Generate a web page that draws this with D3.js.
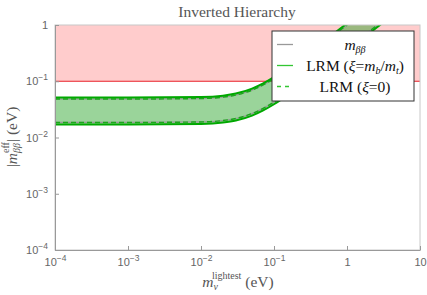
<!DOCTYPE html>
<html>
<head>
<meta charset="utf-8">
<script src="https://cdn.jsdelivr.net/npm/d3@7"></script>
<style>
  body { margin: 0; background: #fff; }
  svg { display: block; }
  .tick text { font-family: "Liberation Sans", Arial, sans-serif; font-size: 11px; fill: #666; }
  .serif { font-family: "Liberation Serif", "Times New Roman", serif; }
</style>
</head>
<body>
<svg id="chart" width="427" height="295"></svg>
<script>
/* lightest neutrino mass (eV) */
let mLightest = [1e-4, 1e-3, 1e-2, 2e-2, 3e-2, 5e-2, 7e-2, 0.1, 0.2, 0.5, 1, 2, 5, 10];
/* m_bb band, standard (xi = 0) */
let mbbUpper = [0.0483, 0.0483, 0.0493, 0.0522, 0.0568, 0.0695, 0.085, 0.111, 0.206, 0.502, 1.00, 2.00, 5.0, 10.0];
let mbbLower = [0.0185, 0.0185, 0.0189, 0.0200, 0.0218, 0.0266, 0.0326, 0.0426, 0.079, 0.193, 0.384, 0.768, 1.92, 3.84];
/* LRM band with xi = m_b/m_t */
let lrmUpper = [0.0514, 0.0515, 0.0525, 0.0555, 0.0604, 0.074, 0.0905, 0.118, 0.219, 0.535, 1.066, 2.13, 5.3, 10.6];
let lrmLower = [0.0170, 0.0170, 0.0174, 0.0184, 0.0200, 0.0245, 0.0300, 0.039, 0.0727, 0.177, 0.353, 0.706, 1.77, 3.53];
/* excluded region */
let excluded = [0.1, 1];

let xTicks = [1e-4, 1e-3, 1e-2, 1e-1, 1, 10];
let yTicks = [1e-4, 1e-3, 1e-2, 1e-1, 1];

let legendItems = [
    {label: 'mbb', color: '#999', dash: null},
    {label: 'lrm', color: '#33c633', dash: null},
    {label: 'lrm0', color: '#33c633', dash: '4,4'}
];

let svg = d3.select('#chart');
let pLeft = 55, pRight = 420, pTop = 25, pBottom = 250;

let x = d3.scaleLog().domain([1e-4, 10]).range([pLeft, pRight]);
let y = d3.scaleLog().domain([1e-4, 1]).range([pBottom, pTop]);

svg.append('defs').append('clipPath').attr('id', 'clip')
    .append('rect').attr('x', pLeft).attr('y', pTop)
    .attr('width', pRight - pLeft).attr('height', pBottom - pTop);

let plot = svg.append('g').attr('clip-path', 'url(#clip)');

/* Excluded region */
plot.append('rect')
    .attr('x', pLeft).attr('width', pRight - pLeft)
    .attr('y', y(excluded[1])).attr('height', y(excluded[0]) - y(excluded[1]))
    .attr('fill', '#ffcccc');
plot.append('line')
    .attr('x1', pLeft).attr('x2', pRight)
    .attr('y1', y(excluded[0])).attr('y2', y(excluded[0]))
    .attr('stroke', '#e8202a').attr('stroke-width', 1.2);

let idx = d3.range(mLightest.length);

/* Band fill */
plot.append('path')
    .datum(idx)
    .attr('d', d3.area()
        .x(i => x(mLightest[i]))
        .y0(i => y(lrmLower[i]))
        .y1(i => y(lrmUpper[i]))
        .curve(d3.curveMonotoneX))
    .attr('fill', 'rgba(30,160,30,0.45)');

let line = arr => d3.line()
    .x(i => x(mLightest[i]))
    .y(i => y(arr[i]))
    .curve(d3.curveMonotoneX);

/* standard m_bb in gray, then dashed LRM(xi=0) over it */
[mbbUpper, mbbLower].forEach(arr => {
    plot.append('path').datum(idx).attr('d', line(arr))
        .attr('fill', 'none').attr('stroke', '#999').attr('stroke-width', 1.2);
    plot.append('path').datum(idx).attr('d', line(arr))
        .attr('fill', 'none').attr('stroke', '#1aa81a').attr('stroke-width', 1.4)
        .attr('stroke-dasharray', '5,3');
});
[lrmUpper, lrmLower].forEach(arr => {
    plot.append('path').datum(idx).attr('d', line(arr))
        .attr('fill', 'none').attr('stroke', '#00a800').attr('stroke-width', 2);
});

/* Frame */
svg.append('rect')
    .attr('x', pLeft).attr('y', pTop)
    .attr('width', pRight - pLeft).attr('height', pBottom - pTop)
    .attr('fill', 'none').attr('stroke', '#c8c8c8');

function supLabel(sel, v) {
    let e = Math.round(Math.log10(v));
    sel.text(null);
    if (e === 0) { sel.text('1'); return; }
    if (e === 1) { sel.text('10'); return; }
    sel.append('tspan').text('10');
    sel.append('tspan').attr('dy', -5).attr('font-size', 8.5).text('\u2212' + (-e));
}

/* Axes */
let xAxis = svg.append('g').attr('transform', `translate(0,${pBottom})`)
    .call(d3.axisBottom(x).tickValues(xTicks).tickSizeInner(-4).tickSizeOuter(0).tickPadding(8));
xAxis.select('.domain').attr('stroke', '#999');
xAxis.selectAll('.tick line').attr('stroke', '#999');
xAxis.selectAll('.tick text').each(function(d) { supLabel(d3.select(this), d); });

let yAxis = svg.append('g').attr('transform', `translate(${pLeft},0)`)
    .call(d3.axisLeft(y).tickValues(yTicks).tickSizeInner(-4).tickSizeOuter(0).tickPadding(7));
yAxis.select('.domain').attr('stroke', '#999');
yAxis.selectAll('.tick line').attr('stroke', '#999');
yAxis.selectAll('.tick text').each(function(d) { supLabel(d3.select(this), d); });

/* Title */
svg.append('text').attr('class', 'serif')
    .attr('x', 237).attr('y', 17).attr('text-anchor', 'middle')
    .attr('font-size', 15.5).attr('fill', '#555')
    .text('Inverted Hierarchy');

/* x label */
let xl = svg.append('text').attr('class', 'serif')
    .attr('x', 238).attr('y', 287).attr('text-anchor', 'middle')
    .attr('font-size', 15.5).attr('fill', '#555');
xl.append('tspan').attr('font-style', 'italic').text('m');
xl.append('tspan').attr('font-style', 'italic').attr('font-size', 10).attr('dy', 3).text('\u03bd');
xl.append('tspan').attr('font-size', 10).attr('dx', -6).attr('dy', -11).text('lightest');
xl.append('tspan').attr('dy', 8).text(' (eV)');

/* y label */
let yl = svg.append('text').attr('class', 'serif')
    .attr('transform', 'translate(17,137) rotate(-90)')
    .attr('text-anchor', 'middle')
    .attr('font-size', 15.5).attr('fill', '#555');
yl.append('tspan').text('|');
yl.append('tspan').attr('font-style', 'italic').text('m');
yl.append('tspan').attr('font-style', 'italic').attr('font-size', 10).attr('dy', 3).text('\u03b2\u03b2');
yl.append('tspan').attr('font-size', 10).attr('dx', -10).attr('dy', -11).text('eff');
yl.append('tspan').attr('dy', 8).text('| (eV)');

/* Legend */
let lg = svg.append('g').attr('transform', 'translate(272,31)');
lg.append('rect').attr('width', 142).attr('height', 70)
    .attr('fill', '#fff').attr('stroke', '#333').attr('stroke-width', 1);
legendItems.forEach((d, i) => {
    let ly = 13.5 + i * 21;
    lg.append('line').attr('x1', 5).attr('x2', 21).attr('y1', ly).attr('y2', ly)
        .attr('stroke', d.color).attr('stroke-width', 1.3)
        .attr('stroke-dasharray', d.dash);
    let t = lg.append('text').attr('class', 'serif')
        .attr('x', 83).attr('y', ly + 5).attr('text-anchor', 'middle')
        .attr('font-size', 15.5).attr('fill', '#111');
    if (d.label === 'mbb') {
        t.append('tspan').attr('font-style', 'italic').text('m');
        t.append('tspan').attr('font-style', 'italic').attr('font-size', 10).attr('dy', 3).text('\u03b2\u03b2');
    } else if (d.label === 'lrm') {
        t.append('tspan').text('LRM (');
        t.append('tspan').attr('font-style', 'italic').text('\u03be');
        t.append('tspan').text('=');
        t.append('tspan').attr('font-style', 'italic').text('m');
        t.append('tspan').attr('font-style', 'italic').attr('font-size', 10).attr('dy', 3).text('b');
        t.append('tspan').attr('dy', -3).text('/');
        t.append('tspan').attr('font-style', 'italic').text('m');
        t.append('tspan').attr('font-style', 'italic').attr('font-size', 10).attr('dy', 3).text('t');
        t.append('tspan').attr('dy', -3).text(')');
    } else {
        t.append('tspan').text('LRM (');
        t.append('tspan').attr('font-style', 'italic').text('\u03be');
        t.append('tspan').text('=0)');
    }
});
</script>
</body>
</html>
